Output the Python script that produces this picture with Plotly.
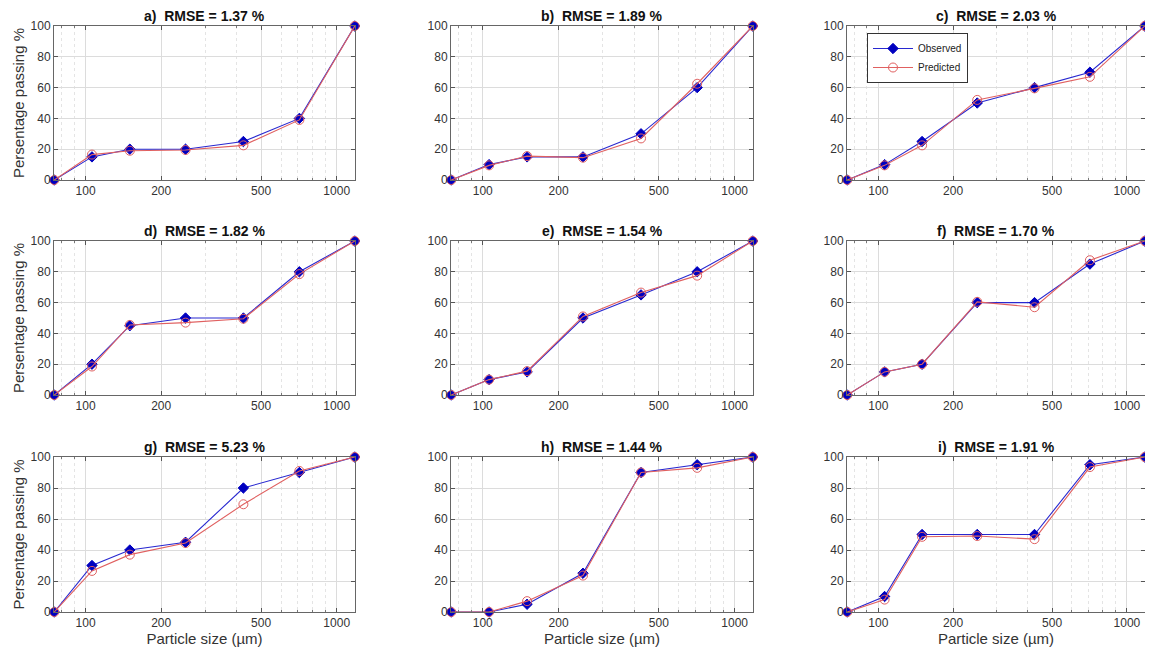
import plotly.graph_objects as go
import math

sizes = [75, 106, 150, 250, 425, 710, 1180]
panel_labels = ["a)", "b)", "c)", "d)", "e)", "f)", "g)", "h)", "i)"]
rmse = ["1.37", "1.89", "2.03", "1.82", "1.54", "1.70", "5.23", "1.44", "1.91"]

obs_a = [0, 15, 20, 20, 25, 40, 100]
pred_a = [0, 16.5, 19, 19.5, 22.5, 39, 100]
obs_b = [0, 10, 15, 15, 30, 60, 100]
pred_b = [0, 9.5, 15.5, 14.5, 27, 62.5, 100]
obs_c = [0, 10, 25, 50, 60, 70, 100]
pred_c = [0, 9.5, 22.5, 52, 59.5, 67, 100]
obs_d = [0, 20, 45, 50, 50, 80, 100]
pred_d = [0, 18.5, 45.5, 47, 49.5, 78.5, 100]
obs_e = [0, 10, 15, 50, 65, 80, 100]
pred_e = [0, 10, 15.5, 51, 66.5, 77.5, 100]
obs_f = [0, 15, 20, 60, 60, 85, 100]
pred_f = [0, 15, 20, 60.5, 57, 87.5, 100]
obs_g = [0, 30, 40, 45, 80, 90, 100]
pred_g = [0, 26.5, 37, 44.5, 69.5, 91, 100]
obs_h = [0, 0, 5, 25, 90, 95, 100]
pred_h = [0, 0, 7, 23.5, 90, 93, 100]
obs_i = [0, 10, 50, 50, 50, 95, 100]
pred_i = [0, 8, 48.5, 49, 47, 93.5, 100]

observed = [obs_a, obs_b, obs_c, obs_d, obs_e, obs_f, obs_g, obs_h, obs_i]
predicted = [pred_a, pred_b, pred_c, pred_d, pred_e, pred_f, pred_g, pred_h, pred_i]

x_ticks = [100, 200, 500, 1000]
x_minor = [80, 90, 300, 400, 600, 700, 800, 900]
y_ticks = [0, 20, 40, 60, 80, 100]
x_min, x_max = 75, 1180

# page has an 8px body margin; figure is sized so the page is 1153x655
PAD = 8
W, H = 1153 - 2 * PAD, 655 - 2 * PAD
col_px = [(54, 355), (451, 753), (847, 1145)]
row_px = [(26, 180), (241, 395), (457, 612)]

FONT = "Liberation Sans, Arial, sans-serif"
TXT = "#333333"

xr = [math.log10(x_min) - 0.001, math.log10(x_max) + 0.001]

fig = go.Figure()
annotations = []
layout_axes = {}

for k in range(9):
    r, c = divmod(k, 3)
    n = k + 1
    xa = "x" if n == 1 else f"x{n}"
    ya = "y" if n == 1 else f"y{n}"
    xkey = "xaxis" if n == 1 else f"xaxis{n}"
    ykey = "yaxis" if n == 1 else f"yaxis{n}"
    x0, x1 = col_px[c]
    t0, t1 = row_px[r]
    xdom = [max(0.0, (x0 - PAD) / W), min(1.0, (x1 - PAD) / W)]
    ydom = [max(0.0, 1 - (t1 - PAD) / H), min(1.0, 1 - (t0 - PAD) / H)]

    fig.add_trace(go.Scatter(
        x=sizes, y=observed[k], mode="lines+markers", name="Observed",
        xaxis=xa, yaxis=ya, showlegend=(k == 2), legendrank=1,
        line=dict(color="#2828d0", width=1.1),
        marker=dict(symbol="diamond", size=8, color="#0000c0",
                    line=dict(color="#0000c0", width=1)),
        cliponaxis=False,
    ))
    fig.add_trace(go.Scatter(
        x=sizes, y=predicted[k], mode="lines+markers", name="Predicted",
        xaxis=xa, yaxis=ya, showlegend=(k == 2), legendrank=2,
        line=dict(color="#e06060", width=1.1),
        marker=dict(symbol="circle-open", size=9, color="#e06060",
                    line=dict(color="#e06060", width=1)),
        cliponaxis=False,
    ))

    layout_axes[xkey] = dict(
        domain=xdom, anchor=ya, type="log", automargin=False,
        range=xr, autorange=False,
        tickmode="array", tickvals=x_ticks, ticktext=[str(v) for v in x_ticks],
        ticks="inside", ticklen=4, tickcolor="#555555",
        showgrid=True, gridcolor="#dcdcdc", gridwidth=1,
        showline=True, linecolor="#666666", linewidth=1, mirror="ticks",
        zeroline=False,
        tickfont=dict(family=FONT, size=12, color=TXT),
        minor=dict(tickmode="array", tickvals=x_minor, showgrid=True,
                   gridcolor="#e4e4e4", griddash="dot", ticks="inside",
                   ticklen=2, tickcolor="#777777"),
        title=dict(text="Particle size (µm)" if r == 2 else "",
                   font=dict(family=FONT, size=15, color=TXT), standoff=4),
    )
    layout_axes[ykey] = dict(
        domain=ydom, anchor=xa, range=[0, 100], autorange=False,
        automargin=False,
        tickmode="array", tickvals=y_ticks,
        ticks="inside", ticklen=4, tickcolor="#555555",
        showgrid=True, gridcolor="#dcdcdc", gridwidth=1,
        showline=True, linecolor="#666666", linewidth=1, mirror="ticks",
        zeroline=False,
        tickfont=dict(family=FONT, size=12, color=TXT),
        title=dict(text="Persentage passing %" if c == 0 else "",
                   font=dict(family=FONT, size=15, color=TXT), standoff=2),
    )

    annotations.append(dict(
        text=f"<b>{panel_labels[k]}  RMSE = {rmse[k]} %</b>",
        x=(xdom[0] + xdom[1]) / 2, y=ydom[1], xref="paper", yref="paper",
        xanchor="center", yanchor="bottom", yshift=0, showarrow=False,
        font=dict(family=FONT, size=14, color="#111111"),
    ))

fig.update_layout(
    width=W, height=H,
    margin=dict(l=0, r=0, t=0, b=0, autoexpand=False),
    paper_bgcolor="white", plot_bgcolor="white",
    annotations=annotations,
    showlegend=True,
    legend=dict(x=(867 - PAD) / W, y=1 - (33 - PAD) / H,
                xanchor="left", yanchor="top",
                bgcolor="white", bordercolor="#333333", borderwidth=1,
                font=dict(family=FONT, size=10, color="#222222"),
                tracegroupgap=0, itemwidth=40),
    **layout_axes,
)

fig.write_html("out.html")
